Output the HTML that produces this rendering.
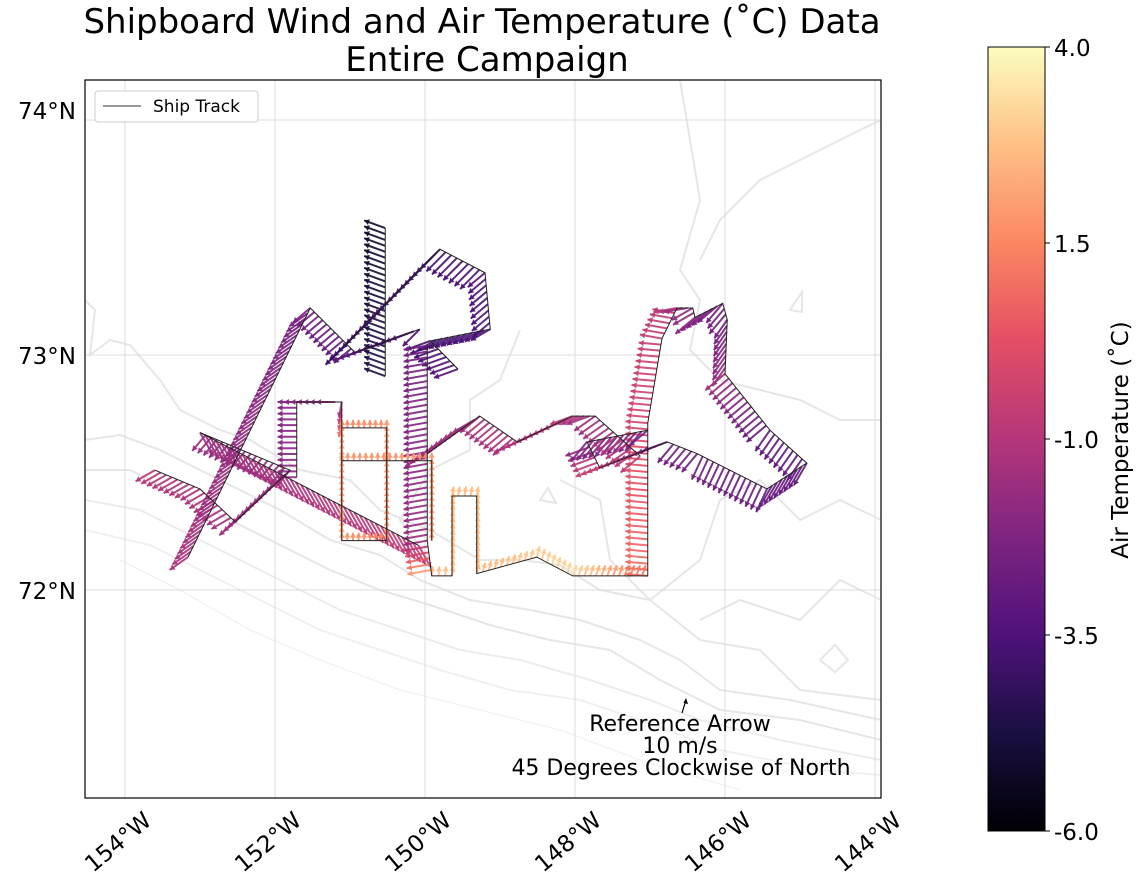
<!DOCTYPE html>
<html><head><meta charset="utf-8">
<style>
html,body{margin:0;padding:0;background:#fff;}
svg{display:block;font-family:"DejaVu Sans","Liberation Sans",sans-serif;}
</style></head>
<body>
<svg id="chart" width="1143" height="888" viewBox="0 0 1143 888">
  <defs>
    <linearGradient id="magma" x1="0" y1="1" x2="0" y2="0">
      <stop offset="0" stop-color="#000004"/>
      <stop offset="0.13" stop-color="#1c1044"/>
      <stop offset="0.25" stop-color="#4f127b"/>
      <stop offset="0.38" stop-color="#812581"/>
      <stop offset="0.5" stop-color="#b5367a"/>
      <stop offset="0.63" stop-color="#e55064"/>
      <stop offset="0.75" stop-color="#fb8761"/>
      <stop offset="0.88" stop-color="#fec287"/>
      <stop offset="1" stop-color="#fcfdbf"/>
    </linearGradient>
    <clipPath id="plotclip"><rect x="85" y="80" width="796" height="718"/></clipPath>
  </defs>
  <text x="482" y="33" font-size="34" text-anchor="middle" fill="#000">Shipboard Wind and Air Temperature (˚C) Data</text>
  <text x="487" y="71" font-size="34" text-anchor="middle" fill="#000">Entire Campaign</text>

  <g clip-path="url(#plotclip)">
    <g id="contours" fill="none" stroke="#e6e6e6" stroke-width="2">
      <polyline points="85,300 95,310 90,355 110,340 130,345 160,380 180,410 220,430 250,440 300,470 350,480 380,510 430,530 480,560 520,560 560,565 600,590 650,600 700,640 760,650 800,690 881,700"/>
      <polyline points="85,440 120,435 160,450 200,470 240,490 280,510 330,540 380,555 420,580 470,600 530,610 580,620 640,640 680,660 720,690 790,700 881,720"/>
      <polyline points="85,470 130,470 180,495 230,520 280,545 330,570 380,590 430,605 490,625 550,640 610,650 660,680 720,710 800,720 881,740"/>
      <polyline points="85,500 140,510 190,535 240,560 290,585 340,610 400,630 460,650 520,660 590,680 650,700 700,720 780,740 881,760" stroke="#ececec"/>
      <polyline points="85,530 150,545 200,570 260,600 320,630 380,650 440,670 510,690 580,700 640,720 720,750 820,770 881,775" stroke="#f0f0f0"/>
      <polyline points="120,560 180,590 250,630 320,660 400,690 480,710 560,730 640,760 740,790" stroke="#f3f3f3" stroke-width="1.5"/>
      <polyline points="680,80 700,200 680,270 700,300 690,350 720,380 760,390 800,400 840,420 881,420" />
      <polyline points="881,120 860,130 820,150 760,180 720,220 700,260"/>
      <polyline points="520,330 500,380 470,400 470,450 430,470 400,520 430,560"/>
      <polyline points="560,480 600,500 610,560 650,600 700,560 720,500 760,480 800,520 840,500 881,520"/>
      <polygon points="820,660 835,645 848,660 835,672"/>
      <polygon points="790,310 802,292 802,312"/>
      <polygon points="540,500 548,488 556,503"/>
      <polyline points="700,620 740,600 800,620 840,580 881,600"/>
    </g>
    <g id="grid" stroke="#dcdcdc" stroke-width="1"></g>
    <g id="tracks"></g>
    <g id="arrows"></g>
  </g>
  <rect x="85" y="80" width="796" height="718" fill="none" stroke="#000" stroke-width="1.2"/>

  <g>
    <rect x="95" y="91" width="163" height="31" rx="3" fill="#fff" stroke="#ccc" stroke-width="1"/>
    <line x1="103" y1="106" x2="141" y2="106" stroke="#333" stroke-width="1"/>
    <text x="153" y="112" font-size="17" fill="#000">Ship Track</text>
  </g>

  <g>
    <line x1="682" y1="713" x2="686" y2="700" stroke="#000" stroke-width="1.2"/>
    <polygon points="686,698 683.5,703 688,704" fill="#000"/>
    <text x="680" y="731" font-size="22" text-anchor="middle" fill="#000">Reference Arrow</text>
    <text x="680" y="753" font-size="22" text-anchor="middle" fill="#000">10 m/s</text>
    <text x="681" y="775" font-size="22" text-anchor="middle" fill="#000">45 Degrees Clockwise of North</text>
  </g>

  <g id="axislabels"></g>

  <g>
    <rect x="988" y="47" width="57" height="784" fill="url(#magma)"/>
    <rect x="988" y="47" width="57" height="784" fill="none" stroke="#000" stroke-width="1"/>
    <g id="cbticks"></g>
    <text transform="translate(1128,440) rotate(-90)" font-size="23" text-anchor="middle" fill="#000">Air Temperature (˚C)</text>
  </g>
</svg>
<script>
// ---- data ----
const trackLon = [-153.60,-153.00,-152.53,-151.80,-153.00,-150.09,null,
  -153.16,-151.53,-150.93,-150.07,null,
  -150.53,-150.53,null,
  -151.07,-149.80,-149.20,-149.13,-149.93,-149.56,null,
  -149.97,-149.97,-149.91,-149.64,-149.64,-149.31,-149.31,-148.51,-148.03,-147.03,-147.03,-146.84,-146.64,-146.43,-146.40,-146.03,-145.97,-146.00,-145.40,-144.91,-145.44,-146.37,-146.77,-147.67,-147.84,-147.03,null,
  -149.97,-149.27,-148.77,-148.03,-147.73,-147.13,null,
  -151.71,-151.71,-151.11,-151.11,-150.51,-150.51,-151.11,-151.11,null,
  -151.11,-149.91,-149.91];
const trackLat = [72.51,72.43,72.29,72.51,72.67,72.19,null,
  72.14,73.20,73.01,73.11,null,
  73.54,72.91,null,
  73.04,73.45,73.35,73.11,73.06,72.94,null,
  73.04,72.21,72.06,72.06,72.40,72.40,72.07,72.14,72.06,72.06,72.71,73.07,73.20,73.20,73.16,73.22,73.15,72.92,72.68,72.54,72.43,72.58,72.63,72.52,72.63,72.68,null,
  72.58,72.74,72.63,72.74,72.74,72.57,null,
  72.48,72.80,72.80,72.69,72.69,72.21,72.21,72.69,null,
  72.55,72.55,72.21];
const airTemp = [-1.0,-1.2,-1.4,-1.8,-1.6,-0.6,null,
  -1.2,-2.5,-3.2,-3.6,null,
  -5.2,-4.6,null,
  -4.0,-3.8,-3.5,-3.6,-3.8,-3.4,null,
  -2.6,-1.6,2.6,2.8,2.6,2.8,2.6,3.0,3.2,1.0,-0.2,-0.6,-0.8,-1.8,-2.0,-2.6,-2.6,-1.6,-3.0,-3.0,-2.8,-2.6,-2.6,-0.4,-2.2,-2.4,null,
  -1.6,-1.4,-1.2,-0.8,-1.6,-0.8,null,
  -2.0,-2.2,-1.6,1.6,1.8,1.5,1.8,1.8,null,
  1.8,1.8,1.6];
const windDir = [240,240,230,220,150,150,null,
  235,230,250,225,null,
  290,290,null,
  225,225,230,240,250,250,null,
  260,260,5,10,10,10,15,15,20,275,275,280,260,240,230,220,215,230,215,210,205,220,250,250,220,230,null,
  240,230,245,250,235,230,null,
  270,270,190,0,0,0,0,0,null,
  0,0,0];
const windSpd = [14,14,13,13,16,16,null,
  14,14,15,15,null,
  14,14,null,
  17,17,14,14,16,16,null,
  15,15,6,6,6,6,6,7,7,14,14,14,15,15,16,16,14,16,16,16,16,15,16,16,16,15,null,
  16,16,16,15,16,16,null,
  12,12,10,5,5,5,5,5,null,
  5,5,5];
const lonTicks = [-154,-152,-150,-148,-146,-144];
const lonTickLabels = ["154°W","152°W","150°W","148°W","146°W","144°W"];
const latTicks = [72,73,74];
const latTickLabels = ["72°N","73°N","74°N"];
const cbTicks = [4.0,1.5,-1.0,-3.5,-6.0];
const cbTickLabels = ["4.0","1.5","-1.0","-3.5","-6.0"];

// ---- scales ----
const X = lon => 425 + (lon + 150) * 75;
const Y = lat => 355 - (lat - 73) * 235;
const TMIN = -6, TMAX = 4;
const CB = t => 831 - (t - TMIN) / (TMAX - TMIN) * 784;
const PX_PER_MS = 1.6;
const magmaStops = [[0,[0,0,4]],[0.13,[28,16,68]],[0.25,[79,18,123]],[0.38,[129,37,129]],[0.5,[181,54,122]],[0.63,[229,80,100]],[0.75,[251,135,97]],[0.88,[254,194,135]],[1,[252,253,191]]];
function magma(t){
  let f = Math.max(0, Math.min(1, (t - TMIN) / (TMAX - TMIN)));
  for (let i = 1; i < magmaStops.length; i++) {
    if (f <= magmaStops[i][0]) {
      const a = magmaStops[i-1], b = magmaStops[i];
      const k = (f - a[0]) / (b[0] - a[0]);
      const c = a[1].map((v, j) => Math.round(v + (b[1][j] - v) * k));
      return `rgb(${c[0]},${c[1]},${c[2]})`;
    }
  }
  return "rgb(252,253,191)";
}
const NS = "http://www.w3.org/2000/svg";
function mk(tag, attrs, parent){ const e = document.createElementNS(NS, tag); for (const k in attrs) e.setAttribute(k, attrs[k]); parent.appendChild(e); return e; }

// ---- graticule ----
const grid = document.getElementById('grid');
lonTicks.forEach(l => {
  const ln = mk('line', {x1: X(l), y1: 80, x2: X(l), y2: 798}, grid);
  
  
});
latTicks.forEach(l => {
  const ln = mk('line', {x1: 85, y1: Y(l), x2: 881, y2: Y(l)}, grid);
  
  
});

// ---- axis labels ----
const al = document.getElementById('axislabels');
lonTicks.forEach((l, i) => {
  const x = X(l) - 2, y = 848;
  const t = mk('text', {transform: `translate(${x},${y}) rotate(-40)`, 'font-size': 23, 'text-anchor': 'middle', fill: '#000'}, al);
  t.textContent = lonTickLabels[i];
  
  
});
latTicks.forEach((l, i) => {
  const yy = l === 74 ? 119 : Y(l) + 9;
  const t = mk('text', {x: 76, y: yy, 'font-size': 23, 'text-anchor': 'end', fill: '#000'}, al);
  t.textContent = latTickLabels[i];
  
  
});

// ---- colorbar ticks ----
const cbt = document.getElementById('cbticks');
cbTicks.forEach((v, i) => {
  const y = CB(v);
  const tk = mk('line', {x1: 1045, y1: y, x2: 1050, y2: y, stroke: '#000'}, cbt);
  
  
  const t = mk('text', {x: 1054, y: y + 9, 'font-size': 23, fill: '#000'}, cbt);
  t.textContent = cbTickLabels[i];
  
  
});

// ---- track + arrows ----
const tracks = document.getElementById('tracks');
const arrows = document.getElementById('arrows');
function drawArrow(x, y, dir, spd, col){
  const L = spd * PX_PER_MS;
  const r = dir * Math.PI / 180;
  const dx = Math.sin(r) * L, dy = -Math.cos(r) * L;
  const x2 = x + dx, y2 = y + dy;
  const g = mk('g', {}, arrows);
  
  
  mk('line', {x1: x, y1: y, x2: x2, y2: y2, stroke: col, 'stroke-width': 2, opacity: 0.9}, g);
  const ux = dx / L, uy = dy / L, h = 5, w = 3;
  const bx = x2 - ux * h, by = y2 - uy * h;
  mk('polygon', {points: `${x2},${y2} ${bx - uy*w},${by + ux*w} ${bx + uy*w},${by - ux*w}`, fill: col, opacity: 0.9}, g);
}
let cur = [];
function flush(){
  if (cur.length > 1) {
    const pl = mk('polyline', {points: cur.map(p => p.join(',')).join(' '), fill: 'none', stroke: '#222', 'stroke-width': 1}, tracks);
    
    
  }
  cur = [];
}
for (let i = 0; i < trackLon.length; i++) {
  if (trackLon[i] === null) { flush(); continue; }
  const x = X(trackLon[i]), y = Y(trackLat[i]);
  cur.push([x, y]);
  const nxt = (i + 1 < trackLon.length && trackLon[i+1] !== null) ? i + 1 : -1;
  const col = magma(airTemp[i]);
  if (nxt < 0) { drawArrow(x, y, windDir[i], windSpd[i], col); continue; }
  const x2 = X(trackLon[nxt]), y2 = Y(trackLat[nxt]);
  const d = Math.hypot(x2 - x, y2 - y);
  const n = Math.max(1, Math.round(d / 6));
  for (let k = 0; k < n; k++) {
    const f = k / n;
    const c = magma(airTemp[i] + (airTemp[nxt] - airTemp[i]) * f);
    drawArrow(x + (x2 - x) * f, y + (y2 - y) * f, windDir[i], windSpd[i], c);
  }
}
flush();
arrows.parentNode.appendChild(tracks);
</script>
</body></html>
